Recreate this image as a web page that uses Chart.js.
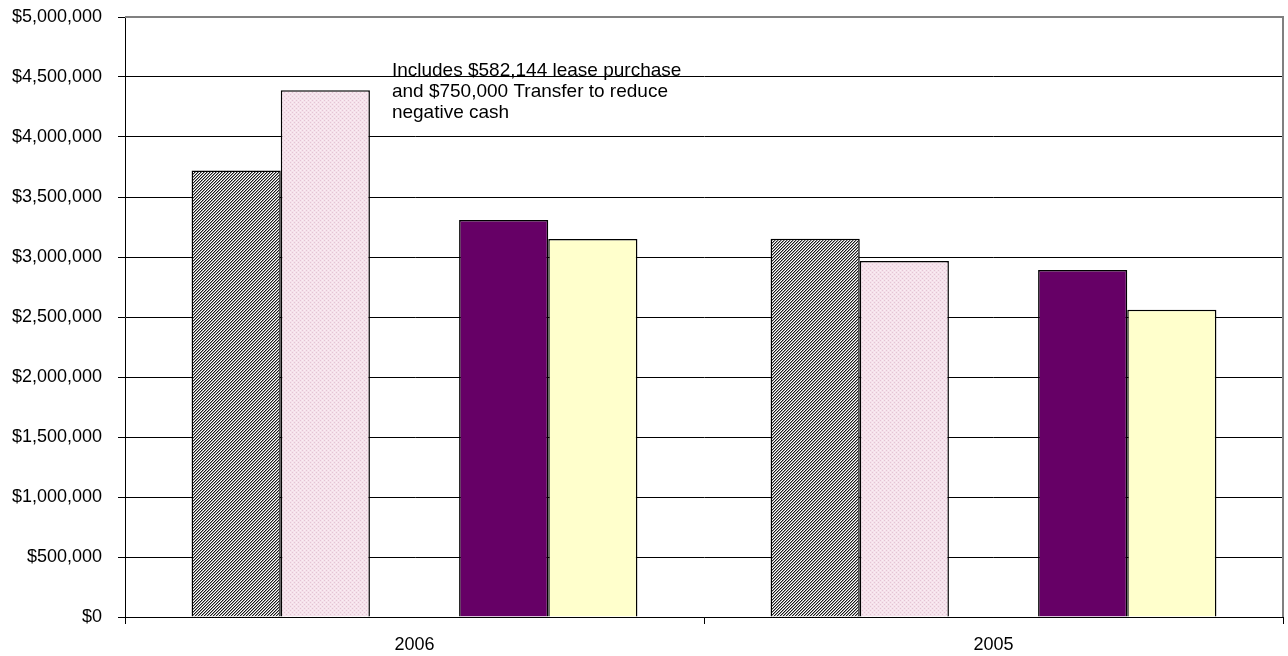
<!DOCTYPE html>
<html>
<head>
<meta charset="utf-8">
<script src="https://cdn.jsdelivr.net/npm/chart.js@4/dist/chart.umd.min.js"></script>
<style>
  html, body { margin: 0; padding: 0; background: #ffffff; }
  #wrap { width: 1288px; height: 656px; position: relative; }
</style>
</head>
<body>
<div id="wrap"><canvas id="c" width="1288" height="656"></canvas></div>
<script>
// ---- data ----
const categories = ["2006", "2005"];
const seriesA = [3720000, 3153000];   // hatched grey
const seriesB = [4390000, 2967000];   // dotted pink
const seriesGap = [null, null];       // empty slot
const seriesC = [3308000, 2892000];   // purple
const seriesD = [3150000, 2561000];   // light yellow
const yTickMax = 5000000;
const yTickStep = 500000;
const noteLines = ["Includes $582,144 lease purchase", "and $750,000 Transfer to reduce", "negative cash"];

const FONT = "'Liberation Sans', Arial, sans-serif";

function makeHatch() {
  const c = document.createElement('canvas');
  c.width = 3; c.height = 3;
  const g = c.getContext('2d');
  for (let y = 0; y < 3; y++) for (let x = 0; x < 3; x++) {
    const m = (x + y) % 3;
    g.fillStyle = m === 0 ? '#1a1a1a' : (m === 1 ? '#9a9a9a' : '#ffffff');
    g.fillRect(x, y, 1, 1);
  }
  return g.createPattern(c, 'repeat');
}
function makeDots() {
  const c = document.createElement('canvas');
  c.width = 4; c.height = 4;
  const g = c.getContext('2d');
  g.fillStyle = '#f5e2eb'; g.fillRect(0, 0, 4, 4);
  g.fillStyle = '#e4c4d4';
  g.fillRect(0, 0, 1, 1); g.fillRect(2, 2, 1, 1);
  g.fillStyle = '#faeef4';
  g.fillRect(2, 0, 1, 1); g.fillRect(0, 2, 1, 1);
  return g.createPattern(c, 'repeat');
}

const frame = {
  id: 'frame',
  afterDraw(chart) {
    const a = chart.chartArea, ctx = chart.ctx;
    ctx.save();
    ctx.strokeStyle = '#808080';
    ctx.lineWidth = 2;
    ctx.beginPath();
    ctx.moveTo(a.left, a.top);
    ctx.lineTo(a.right, a.top);
    ctx.lineTo(a.right, a.bottom);
    ctx.stroke();
    // note text
    const meta = chart.getDatasetMeta(1);
    const bar = meta.data[0];
    const x = bar.x + bar.width / 2 + 22;
    const y0 = chart.scales.y.getPixelForValue(yTickMax - yTickStep) - 1;
    ctx.fillStyle = '#000000';
    ctx.font = '19px ' + FONT;
    ctx.textAlign = 'left';
    ctx.textBaseline = 'alphabetic';
    noteLines.forEach((t, i) => ctx.fillText(t, x, y0 + i * 21));
    ctx.restore();
  }
};

const common = { borderColor: '#000000', borderWidth: 1.5, borderSkipped: 'start' };

new Chart(document.getElementById('c'), {
  type: 'bar',
  data: {
    labels: categories,
    datasets: [
      Object.assign({ label: 'Series 1', data: seriesA, backgroundColor: makeHatch() }, common),
      Object.assign({ label: 'Series 2', data: seriesB, backgroundColor: makeDots() }, common),
      Object.assign({ label: 'Series 3', data: seriesGap, backgroundColor: '#ffffff' }, common),
      Object.assign({ label: 'Series 4', data: seriesC, backgroundColor: '#660066' }, common),
      Object.assign({ label: 'Series 5', data: seriesD, backgroundColor: '#ffffcc' }, common)
    ]
  },
  options: {
    responsive: false,
    animation: false,
    layout: { padding: { top: 17, right: 5, left: 0, bottom: 0 } },
    datasets: { bar: { categoryPercentage: 0.77, barPercentage: 1.0 } },
    plugins: { legend: { display: false }, tooltip: { enabled: false } },
    scales: {
      x: {
        offset: true,
        grid: { offset: true, drawOnChartArea: false, drawTicks: true, tickLength: 7, color: '#000000' },
        border: { color: '#000000', width: 1 },
        ticks: { color: '#000000', font: { family: FONT, size: 18 }, padding: 10, maxRotation: 0 },
        afterFit(s) { s.height = 39; s.paddingLeft = 0; s.paddingRight = 0; }
      },
      y: {
        min: 0, max: yTickMax,
        grid: { color: '#000000', tickLength: 7, lineWidth: 1 },
        border: { color: '#000000', width: 1 },
        ticks: {
          stepSize: yTickStep,
          color: '#000000',
          padding: 16,
          font: { family: FONT, size: 18 },
          callback: v => '$' + Number(v).toLocaleString('en-US')
        },
        afterFit(s) { s.width = 125; s.paddingTop = 0; s.paddingBottom = 0; }
      }
    }
  },
  plugins: [frame]
});
</script>
</body>
</html>
